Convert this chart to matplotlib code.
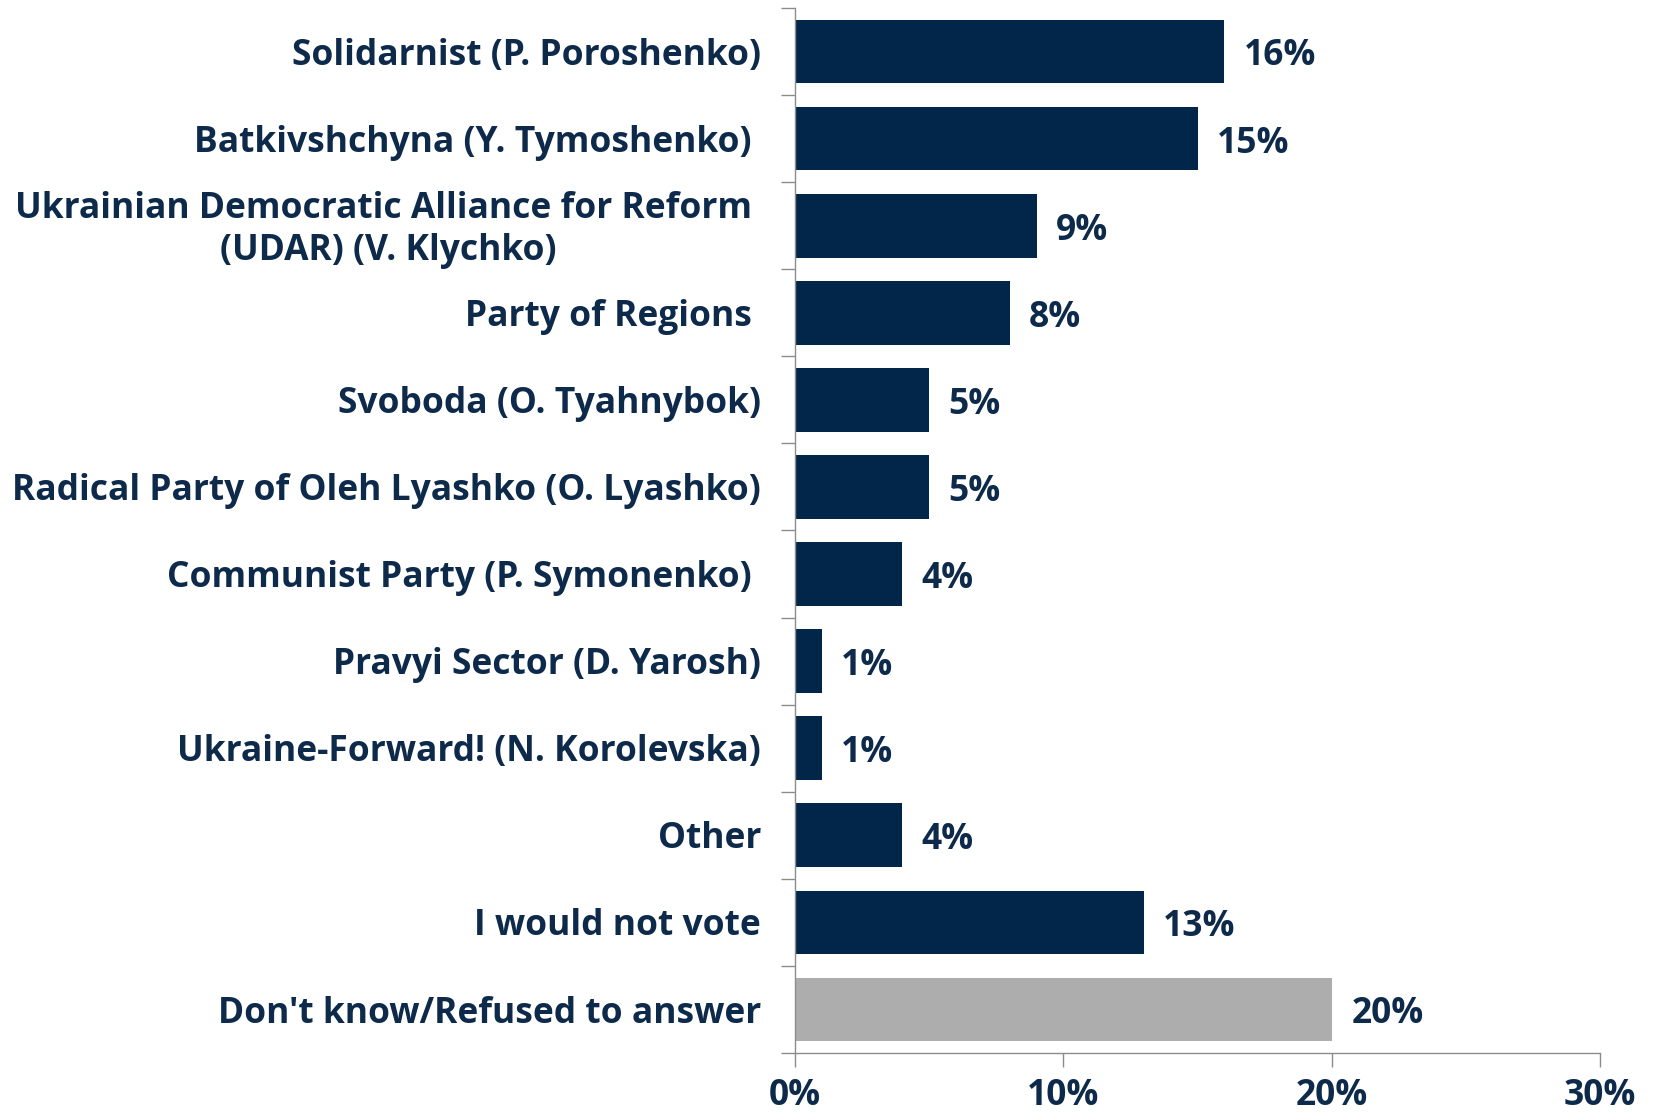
import matplotlib
matplotlib.use("Agg")
from matplotlib import pyplot as plt
import numpy as np

# survey answers, top to bottom
parties = [
    "Solidarnist (P. Poroshenko)",
    "Batkivshchyna (Y. Tymoshenko) ",
    "Ukrainian Democratic Alliance for Reform \n(UDAR) (V. Klychko)",
    "Party of Regions ",
    "Svoboda (O. Tyahnybok)",
    "Radical Party of Oleh Lyashko (O. Lyashko)",
    "Communist Party (P. Symonenko) ",
    "Pravyi Sector (D. Yarosh)",
    "Ukraine-Forward! (N. Korolevska)",
    "Other",
    "I would not vote",
    "Don't know/Refused to answer",
]
shares = [16, 15, 9, 8, 5, 5, 4, 1, 1, 4, 13, 20]
x_ticks = [0, 10, 20, 30]

navy = "#02264a"
grey = "#adadae"
txt = "#0e2a4b"
spine = "#8c8c8c"

plt.rcParams['font.family'] = ['Open Sans', 'DejaVu Sans']
fs = 25.5

fig = plt.figure(figsize=(16.54, 11.16), dpi=100)
ax = fig.add_axes([0.4807, 0.0565, 0.9674 - 0.4807, 0.9928 - 0.0565])

n = len(parties)
ypos = np.arange(n)
colors = [navy] * (n - 1) + [grey]
bars = ax.barh(ypos, shares, height=0.73, color=colors)

ax.set_ylim(n - 0.5, -0.5)
ax.set_xlim(0, 30)

# labels next to bars
for b, v in zip(bars, shares):
    ax.annotate(f"{v}%", (b.get_width(), b.get_y() + b.get_height() / 2),
                xytext=(14, -3.5), textcoords="offset points", va="center",
                ha="left", fontsize=fs, fontweight="bold", color=txt)

# category names as plain text so the two-line one can be centred
for y, name in zip(ypos, parties):
    ax.annotate(name, (0, y), xycoords=("axes fraction", "data"),
                xytext=(-24.5, -3), textcoords="offset points",
                ha="right", va="center", multialignment="center",
                fontsize=fs, fontweight="bold", color=txt)

# y ticks sit between the bars
ax.set_yticks(np.arange(n + 1) - 0.5)
ax.set_yticklabels([])
ax.tick_params(axis="y", length=10, width=1, color=spine, direction="out")

ax.set_xticks(x_ticks)
ax.set_xticklabels([f"{t}%" for t in x_ticks], fontsize=fs,
                   fontweight="bold", color=txt)
ax.tick_params(axis="x", length=10, width=1, color=spine, direction="out", pad=8)

for s in ["top", "right"]:
    ax.spines[s].set_visible(False)
for s in ["left", "bottom"]:
    ax.spines[s].set_color(spine)
    ax.spines[s].set_linewidth(1)

fig.savefig("out.png", dpi=100)
